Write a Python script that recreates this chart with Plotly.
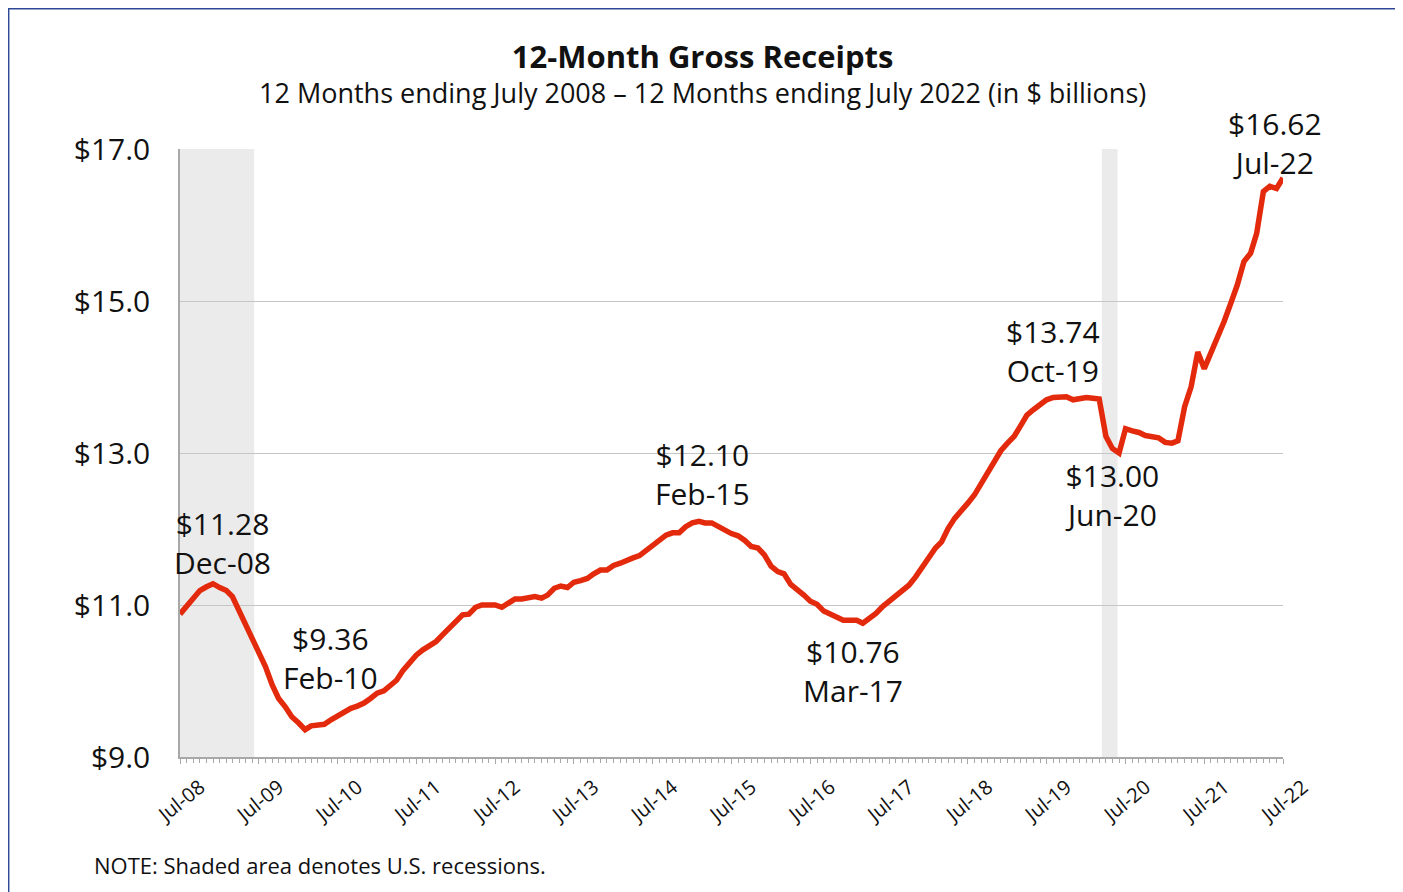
import pandas as pd
import plotly.graph_objects as go

# ---- data (12-month gross receipts, $ billions, monthly Jul-08 .. Jul-22) ----
start_month = "2008-07-01"
receipts = [
    10.88, 10.99, 11.09, 11.19, 11.24, 11.28, 11.23, 11.19, 11.11, 10.93, 10.76, 10.55,
    10.39, 10.19, 9.95, 9.77, 9.66, 9.53, 9.45, 9.36, 9.41, 9.42, 9.43, 9.49,
    9.54, 9.58, 9.64, 9.67, 9.71, 9.77, 9.84, 9.87, 9.93, 10.01, 10.14, 10.24,
    10.34, 10.41, 10.46, 10.52, 10.61, 10.69, 10.77, 10.87, 10.88, 10.97, 11.00, 11.00,
    11.00, 10.97, 11.02, 11.08, 11.08, 11.10, 11.11, 11.09, 11.13, 11.22, 11.25, 11.23,
    11.30, 11.32, 11.35, 11.41, 11.46, 11.46, 11.52, 11.55, 11.59, 11.62, 11.65, 11.72,
    11.77, 11.84, 11.92, 11.95, 11.95, 12.03, 12.08, 12.10, 12.08, 12.08, 12.03, 11.99,
    11.94, 11.91, 11.85, 11.77, 11.75, 11.66, 11.51, 11.44, 11.41, 11.27, 11.21, 11.13,
    11.05, 11.01, 10.92, 10.88, 10.85, 10.80, 10.80, 10.80, 10.76, 10.82, 10.89, 10.98,
    11.05, 11.10, 11.18, 11.26, 11.37, 11.49, 11.64, 11.75, 11.83, 12.01, 12.14, 12.23,
    12.34, 12.45, 12.60, 12.75, 12.91, 13.03, 13.13, 13.22, 13.35, 13.50, 13.57, 13.63,
    13.70, 13.73, 13.74, 13.74, 13.70, 13.72, 13.73, 13.72, 13.71, 13.22, 13.06, 13.00,
    13.32, 13.29, 13.27, 13.23, 13.21, 13.20, 13.14, 13.13, 13.16, 13.61, 13.87, 14.33,
    14.11, 14.31, 14.55, 14.73, 14.97, 15.21, 15.52, 15.63, 15.89, 16.44, 16.51, 16.48,
    16.62,
]
months = pd.date_range(start_month, periods=len(receipts), freq="MS")

# labelled points: (month, xshift px, yshift px)
callouts = [
    ("2008-12-01", 9, 41),
    ("2010-02-01", 25, 72),
    ("2015-02-01", 3, 47),
    ("2017-03-01", -10, -48),
    ("2019-10-01", -13, 46),
    ("2020-06-01", -7, -42),
    ("2022-07-01", -8, 35),
]

# recession periods shaded
recessions = [("2008-07-01", "2009-06-10"), ("2020-03-13", "2020-05-25")]

title = "12-Month Gross Receipts"
subtitle = "12 Months ending July 2008 \u2013 12 Months ending July 2022 (in $ billions)"
note = "NOTE: Shaded area denotes U.S. recessions."

FONT = "Open Sans"
RED = "#E32A0C"
GRID = "#C6C6C6"
TXT = "#111111"

fig = go.Figure()
fig.add_trace(go.Scatter(
    x=months, y=receipts, mode="lines",
    line=dict(color=RED, width=5.5), cliponaxis=False,
    hoverinfo="x+y", showlegend=False,
))

for x0, x1 in recessions:
    fig.add_shape(type="rect", xref="x", yref="y", x0=x0, x1=x1, y0=9, y1=17,
                  fillcolor="#EBEBEB", line=dict(width=0), layer="below")

series = pd.Series(receipts, index=months)
for m, dx, dy in callouts:
    ts = pd.Timestamp(m)
    v = series[ts]
    fig.add_annotation(
        x=ts, y=v, xref="x", yref="y", showarrow=False,
        text=f"${v:.2f}<br>{ts.strftime('%b-%y')}",
        xanchor="center", yanchor="middle", xshift=dx, yshift=dy,
        font=dict(family=FONT, size=30, color=TXT),
    )

# title block (title + subtitle in one text) and note
fig.add_annotation(xref="paper", yref="paper", x=0.474, y=1.125, showarrow=False,
                   text=f"<span style='font-size:31px'><b>{title}</b></span><br>{subtitle}",
                   xanchor="center", yanchor="middle", align="center",
                   font=dict(family=FONT, size=27, color=TXT))
fig.add_annotation(xref="paper", yref="paper", x=-0.0798, y=-0.178, showarrow=False,
                   text=note, xanchor="left", yanchor="middle",
                   font=dict(family=FONT, size=22, color=TXT))

# outer frame
fig.add_shape(type="rect", xref="paper", yref="paper", x0=-0.156, x1=1.1045, y0=-0.4, y1=1.232,
              line=dict(color="#2E4896", width=3), fillcolor="rgba(0,0,0,0)", layer="above")

fig.update_layout(
    width=1395, height=884,
    margin=dict(l=172, r=120, t=141, b=135),
    paper_bgcolor="white", plot_bgcolor="white",
    font=dict(family=FONT, color=TXT),
)
fig.update_xaxes(
    range=[months[0], months[-1]], type="date",
    tick0=start_month, dtick="M12", tickformat="%b-%y", tickangle=-39,
    ticklabelshift=20, ticklabelstandoff=4,
    tickfont=dict(family=FONT, size=20),
    ticks="outside", ticklen=5, tickcolor="#A8A8A8",
    minor=dict(dtick="M1", ticks="outside", ticklen=4, tickcolor="#A8A8A8", showgrid=False),
    showline=True, linecolor="#A8A8A8", linewidth=1.5,
    showgrid=False, zeroline=False,
)
fig.update_yaxes(
    range=[9, 17], dtick=2, tick0=9, tickprefix="$", tickformat=".1f",
    tickfont=dict(family=FONT, size=30), ticklabelstandoff=22,
    showgrid=True, gridcolor=GRID, gridwidth=1.2,
    showline=True, linecolor="#A8A8A8", linewidth=1.5,
    zeroline=False, ticks="",
)

fig.write_html("out.html")
